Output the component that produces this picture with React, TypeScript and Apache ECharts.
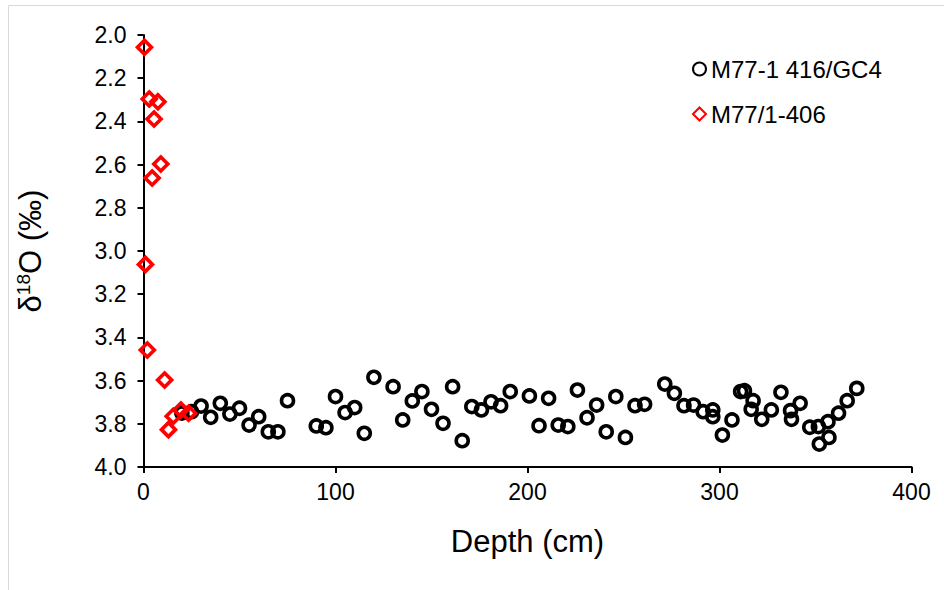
import React, { useEffect, useRef } from "react";
import * as echarts from "echarts";

const gc4Depth = [20, 25, 30, 35, 40, 45, 50, 55, 60, 65, 70, 75, 90, 95, 100, 105, 110, 115, 120, 130, 135, 140, 145, 150, 156, 161, 166, 171, 176, 181, 186, 191, 201, 206, 211, 216, 221, 226, 231, 236, 241, 246, 251, 256, 261, 271.5, 276.5, 281.5, 286.5, 291.5, 296.5, 296.5, 301.5, 306.5, 311, 313, 317.5, 316.5, 322, 327, 332, 337, 337.5, 342, 347, 351.5, 352, 356.5, 357, 362, 366.5, 371.5];
const gc4Value = [3.75, 3.744, 3.718, 3.77, 3.705, 3.755, 3.728, 3.806, 3.767, 3.837, 3.837, 3.693, 3.81, 3.818, 3.674, 3.748, 3.725, 3.844, 3.585, 3.628, 3.782, 3.694, 3.651, 3.733, 3.798, 3.628, 3.878, 3.72, 3.736, 3.698, 3.716, 3.651, 3.671, 3.809, 3.682, 3.806, 3.813, 3.644, 3.772, 3.713, 3.837, 3.674, 3.863, 3.716, 3.71, 3.616, 3.659, 3.716, 3.713, 3.744, 3.736, 3.767, 3.852, 3.782, 3.651, 3.647, 3.693, 3.733, 3.779, 3.736, 3.654, 3.739, 3.779, 3.705, 3.816, 3.813, 3.894, 3.79, 3.863, 3.751, 3.693, 3.636];

const m406Depth = [0.5, 3, 7.5, 5.5, 9, 4.5, 1, 2, 11, 13, 15.5, 19.5, 23.5];
const m406Value = [2.057, 2.296, 2.309, 2.389, 2.597, 2.662, 3.062, 3.458, 3.597, 3.827, 3.765, 3.736, 3.751];

const xTicks = [0, 100, 200, 300, 400];
const yTicks = [2.0, 2.2, 2.4, 2.6, 2.8, 3.0, 3.2, 3.4, 3.6, 3.8, 4.0];

const seriesNames = ["M77-1 416/GC4", "M77/1-406"];

export default function App() {
  const ref = useRef<HTMLDivElement>(null);
  useEffect(() => {
    if (!ref.current) return;
    const chart = echarts.init(ref.current, null, { renderer: "svg" });
    const font = "Liberation Sans, Arial, sans-serif";
    chart.setOption({
      animation: false,
      backgroundColor: "#ffffff",
      textStyle: { fontFamily: font },
      graphic: [
        {
          type: "rect",
          silent: true,
          shape: { x: 8.5, y: 5.5, width: 1000, height: 1000 },
          style: { fill: "none", stroke: "#d9d9d9", lineWidth: 1 },
        },
      ],
      grid: { left: 143.5, right: 32.5, top: 35, bottom: 123, containLabel: false },
      legend: {
        orient: "vertical",
        left: 687,
        top: 52,
        itemWidth: 13,
        itemHeight: 13,
        itemGap: 21,
        textStyle: { fontSize: 24, color: "#000", fontFamily: font },
        data: seriesNames,
      },
      xAxis: {
        type: "value",
        min: xTicks[0],
        max: xTicks[xTicks.length - 1],
        interval: 100,
        position: "bottom",
        name: "Depth (cm)",
        nameLocation: "middle",
        nameGap: 59,
        nameTextStyle: { fontSize: 31, color: "#000", fontFamily: font },
        axisLine: { onZero: false, lineStyle: { color: "#000", width: 2 } },
        axisTick: { show: true, inside: false, length: 6, lineStyle: { color: "#000", width: 2 } },
        axisLabel: { fontSize: 23, color: "#000", margin: 13, fontFamily: font },
        splitLine: { show: false },
      },
      yAxis: {
        type: "value",
        inverse: true,
        min: yTicks[0],
        max: yTicks[yTicks.length - 1],
        interval: 0.2,
        name: "{n|δ}{s|18}{n|O (‰)}",
        nameLocation: "middle",
        nameGap: 96,
        nameRotate: 90,
        nameTextStyle: {
          color: "#000",
          fontFamily: font,
          rich: {
            n: { fontSize: 31, color: "#000", fontFamily: font, lineHeight: 34 },
            s: { fontSize: 19, color: "#000", fontFamily: font, verticalAlign: "top", lineHeight: 34 },
          },
        },
        axisLine: { show: true, onZero: false, lineStyle: { color: "#000", width: 2 } },
        axisTick: { show: true, inside: false, length: 6, lineStyle: { color: "#000", width: 2 } },
        axisLabel: {
          fontSize: 23,
          color: "#000",
          margin: 17,
          fontFamily: font,
          formatter: (v: number) => v.toFixed(1),
        },
        splitLine: { show: false },
      },
      series: [
        {
          name: seriesNames[0],
          type: "scatter",
          symbol: "circle",
          symbolSize: 12,
          itemStyle: { color: "rgba(255,255,255,0)", borderColor: "#000", borderWidth: 3.6, opacity: 1 },
          data: gc4Depth.map((d, i) => [d, gc4Value[i]]),
          z: 2,
        },
        {
          name: seriesNames[1],
          type: "scatter",
          symbol: "diamond",
          symbolSize: 14,
          itemStyle: { color: "rgba(255,255,255,0)", borderColor: "#ff0000", borderWidth: 3.6, opacity: 1 },
          data: m406Depth.map((d, i) => [d, m406Value[i]]),
          z: 3,
        },
      ],
    });
    return () => chart.dispose();
  }, []);
  return (
    <div
      ref={ref}
      style={{ position: "absolute", left: 0, top: 0, width: 944, height: 590 }}
    />
  );
}
